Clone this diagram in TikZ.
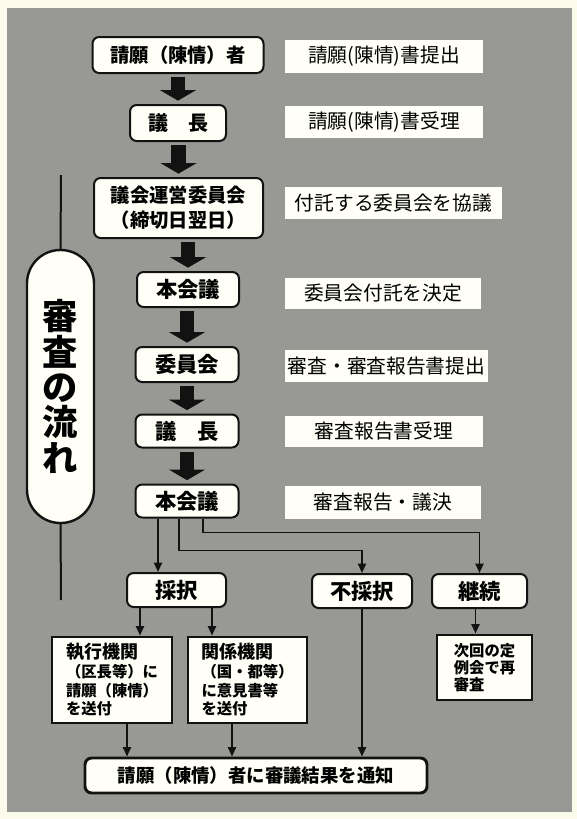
\documentclass[tikz,border=0pt]{standalone}
\usepackage{fontspec}
\setmainfont{Noto Sans CJK JP}
\usetikzlibrary{arrows.meta,calc}
\definecolor{paper}{RGB}{251,251,236}
\definecolor{panel}{RGB}{152,152,149}
\definecolor{boxfill}{RGB}{255,255,247}
\definecolor{ink}{RGB}{18,18,18}

\begin{document}
\begin{tikzpicture}[x=0.75pt, y=-0.75pt,
    stepbox/.style={draw=ink, line width=1.5pt, rounded corners=5pt, fill=boxfill,
      inner sep=0pt, align=center, font=\bfseries\fontsize{14.5}{19}\selectfont},
    notebox/.style={fill=boxfill, inner sep=0pt, font=\fontsize{14.8}{16}\selectfont},
    sendbox/.style={draw=ink, line width=2.2pt, fill=boxfill, inner sep=0pt, align=left,
      font=\bfseries\fontsize{11.5}{14}\selectfont},
    bigarrow/.style={draw=ink, line width=11pt, -{Triangle[width=27pt,length=8pt]},
      shorten <=2.5pt, shorten >=2.5pt},
    arr/.style={draw=ink, line width=1.4pt, -{Triangle[width=6pt,length=7pt]}}]
  \useasboundingbox (0,0) rectangle (577,819);

  % paper and grey panel
  \fill[paper] (0,0) rectangle (577,819);
  \fill[panel] (7,8) rectangle (572,812);

  % side title with its guide line
  \coordinate (linetop) at (61,175);
  \coordinate (linebot) at (61,600);
  \node[draw=ink, line width=1.8pt, fill=boxfill, rounded corners=25pt, inner sep=0pt,
    minimum width=50.25pt, minimum height=204.75pt, align=center,
    font=\bfseries\fontsize{26.5}{26.5}\selectfont] (flow) at (60.5,386.5) {審\\査\\の\\流\\れ};
  \draw[ink, line width=1.5pt] (linetop) -- (flow.north);
  \draw[ink, line width=1.5pt] (flow.south) -- (linebot);

  % main column
  \node[stepbox, minimum width=128.25pt, minimum height=27pt] (pet) at (178,55) {請願（陳情）者};
  \node[stepbox, minimum width=72pt, minimum height=27pt, font=\bfseries\fontsize{15}{18}\selectfont]
    (chair1) at (178,123) {議　長};
  \node[stepbox, minimum width=126.75pt, minimum height=45pt] (unei) at (178.5,208) {議会運営委員会\\（締切日翌日）};
  \node[stepbox, minimum width=76.5pt, minimum height=26.25pt, font=\bfseries\fontsize{16}{18}\selectfont]
    (hon1) at (188,289.5) {本会議};
  \node[stepbox, minimum width=77.25pt, minimum height=26.25pt, font=\bfseries\fontsize{16}{18}\selectfont]
    (iin) at (187,364.5) {委員会};
  \node[stepbox, minimum width=77.25pt, minimum height=24.75pt, font=\bfseries\fontsize{16}{18}\selectfont]
    (chair2) at (187,431) {議　長};
  \node[stepbox, minimum width=77.25pt, minimum height=24.75pt, font=\bfseries\fontsize{16}{18}\selectfont]
    (hon2) at (187,501) {本会議};

  \foreach \a/\b in {pet/chair1, chair1/unei, unei/hon1, hon1/iin, iin/chair2, chair2/hon2}
    \draw[bigarrow] (\a.south -| \b.north) -- (\b.north);

  % notes on the right
  \foreach \i/\cx/\cy/\w/\h/\txt in {1/384/56.5/148.5/24.75/{請願(陳情)書提出},
      2/384/122/148.5/24/{請願(陳情)書受理},
      3/393.5/203/162.75/24/{付託する委員会を協議},
      4/383/293.5/147/23.25/{委員会付託を決定},
      5/386.5/366/152.25/24/{審査・審査報告書提出},
      6/384/431.5/148.5/23.25/{審査報告書受理},
      7/383/502.5/147/24.75/{審査報告・議決}}
    \node[notebox, minimum width=\w pt, minimum height=\h pt] (lab\i) at (\cx,\cy) {\txt};

  % decisions
  \node[stepbox, minimum width=74.25pt, minimum height=25.5pt, font=\bfseries\fontsize{16}{18}\selectfont]
    (adopt) at (176.5,590) {採択};
  \node[stepbox, minimum width=75pt, minimum height=25.5pt, font=\bfseries\fontsize{16}{18}\selectfont]
    (reject) at (362,591) {不採択};
  \node[stepbox, minimum width=71.25pt, minimum height=25.5pt, font=\bfseries\fontsize{16}{18}\selectfont]
    (cont) at (479.5,591) {継続};

  \node[sendbox, minimum width=90pt, minimum height=64.5pt] (exec) at (112,680)
    {{\fontsize{13.5}{14}\selectfont 執行機関}\\（区長等）に\\請願（陳情）\\を送付};
  \node[sendbox, minimum width=89.25pt, minimum height=64.5pt] (rel) at (247.5,680)
    {{\fontsize{13.5}{14}\selectfont 関係機関}\\（国・都等）\\に意見書等\\を送付};
  \node[sendbox, minimum width=71.25pt, minimum height=48.75pt, font=\bfseries\fontsize{11.5}{13}\selectfont]
    (next) at (484.5,667.5) {次回の定\\例会で再\\審査};

  \node[stepbox, line width=2.2pt, minimum width=256.5pt, minimum height=26.25pt,
    font=\bfseries\fontsize{13.8}{16}\selectfont] (notify) at (256,775.5) {請願（陳情）者に審議結果を通知};

  % branches
  \coordinate (adoptin) at ($(adopt.north)+(-18.5,0)$);
  \coordinate (rejout) at ($(hon2.south)+(-8,0)$);
  \coordinate (contout) at ($(hon2.south)+(16,0)$);
  \draw[arr] (adoptin |- hon2.south) -- (adoptin);
  \draw[arr] (rejout) -- ++(0,32) -| (reject.north);
  \draw[arr] (contout) -- ++(0,14) -| (cont.north);

  \coordinate (execin) at ($(exec.north)+(28,0)$);
  \coordinate (relin) at ($(rel.north)+(-35.5,0)$);
  \coordinate (nextin) at ($(next.north)+(-9,0)$);
  \draw[arr] (execin |- adopt.south) -- (execin);
  \draw[arr] (relin |- adopt.south) -- (relin);
  \draw[arr] (nextin |- cont.south) -- (nextin);

  \coordinate (execout) at ($(exec.south)+(15,0)$);
  \coordinate (relout) at ($(rel.south)+(-15.5,0)$);
  \draw[arr] (execout) -- (execout |- notify.north);
  \draw[arr] (relout) -- (relout |- notify.north);
  \draw[arr] (reject.south) -- (reject.south |- notify.north);

\end{tikzpicture}
\end{document}
